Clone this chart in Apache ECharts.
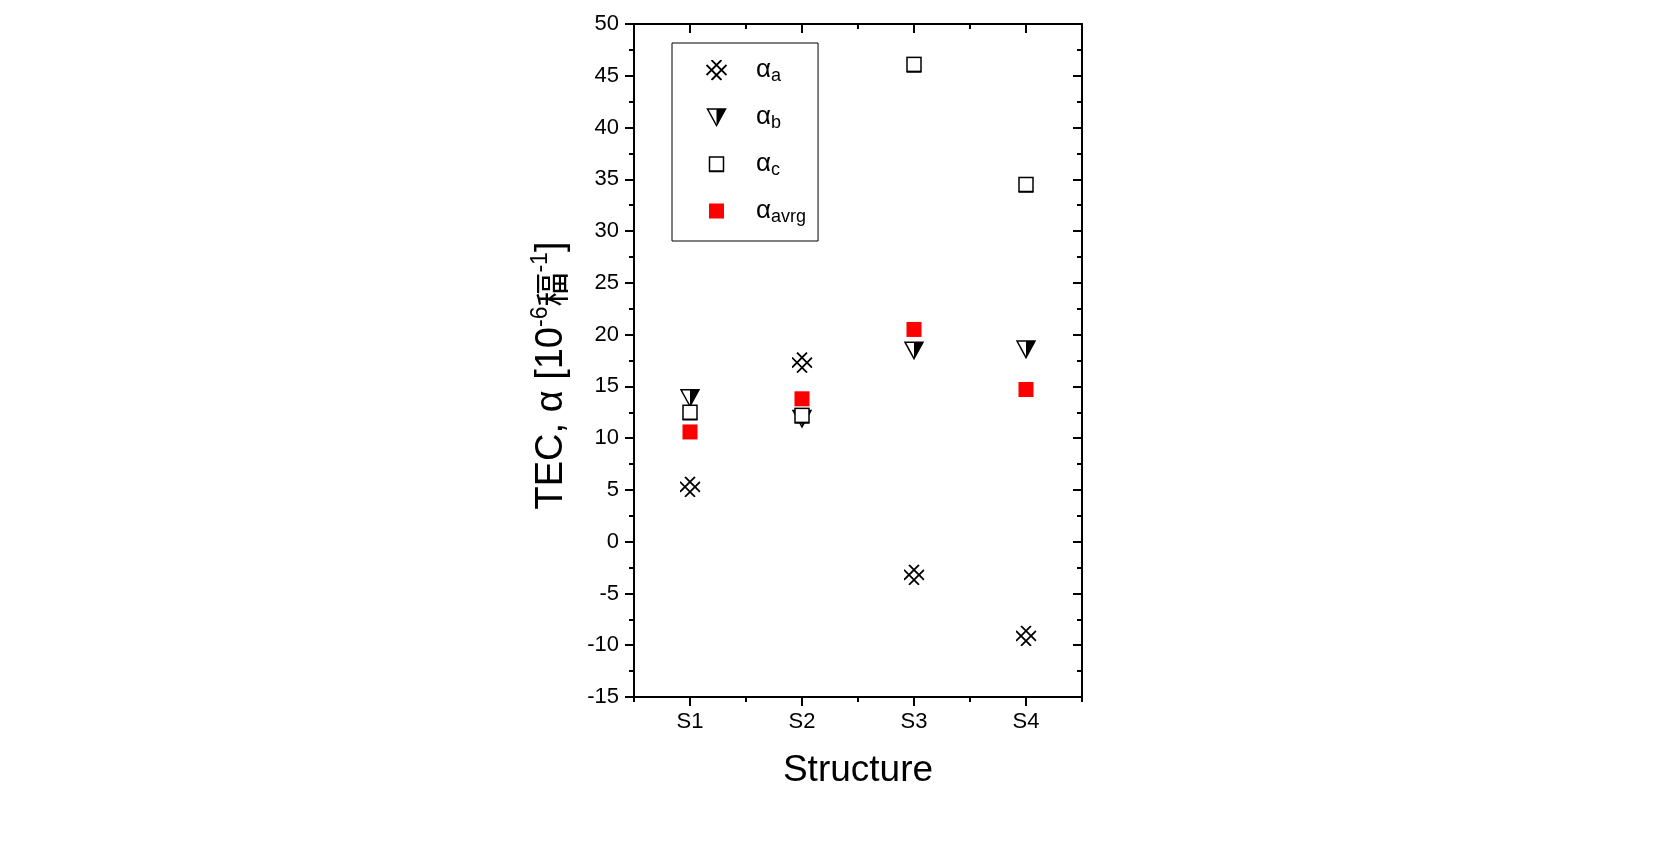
<!DOCTYPE html>
<html>
<head>
<meta charset="utf-8">
<title>TEC by structure</title>
<script src="https://cdn.jsdelivr.net/npm/echarts@6/dist/echarts.min.js"></script>
<style>
  html, body { margin: 0; padding: 0; background: #fff; }
  #chart { width: 1675px; height: 863px; }
</style>
</head>
<body>
<div id="chart"></div>
<script>
// ── Data ─────────────────────────────────────────────────────────────────────
const structures = ['S1', 'S2', 'S3', 'S4'];
const alphaA    = [5.3, 17.3, -3.2, -9.1];
const alphaB    = [13.9, 11.9, 18.5, 18.6];
const alphaC    = [12.5, 12.2, 46.1, 34.5];
const alphaAvrg = [10.6, 13.8, 20.5, 14.7];

const seriesNames = ['a', 'b', 'c', 'avrg'];   // subscripts of α

// ── Marker glyphs (Origin-style) as inline SVG ───────────────────────────────
// Drawn into a 21×21 box so every series can share one symbolSize.
const svg = body =>
  'image://data:image/svg+xml;charset=utf-8,' + encodeURIComponent(
    "<svg xmlns='http://www.w3.org/2000/svg' width='21' height='21' viewBox='0 0 21 21'>" +
    body + '</svg>');

const SYM_CROSS = svg(
  "<path d='M5.5 0.5L20.5 15.5M0.5 5.5L15.5 20.5M15.5 0.5L0.5 15.5M20.5 5.5L5.5 20.5' " +
  "stroke='#000' stroke-width='1.8' fill='none'/>");
const SYM_TRI = svg(
  "<path d='M1.5 2.5L19.5 2.5L10.5 19Z' fill='#fff' stroke='#000' stroke-width='1.5' stroke-linejoin='miter'/>" +
  "<path d='M10.5 2.5L19.5 2.5L10.5 19Z' fill='#000'/>");
const SYM_OPEN_SQ = svg(
  "<rect x='3.5' y='3.5' width='14' height='14' fill='#fff' stroke='#000' stroke-width='1.5'/>" +
  "<path d='M3 18.2L18 18.2' stroke='#000' stroke-width='1.2'/>");
const SYM_RED_SQ = svg(
  "<rect x='3' y='3' width='15' height='15' fill='#ff0000'/>");

const FONT = '"Liberation Sans", Arial, Helvetica, sans-serif';
const BLACK = '#000';

// ── Axes ─────────────────────────────────────────────────────────────────────
const grid = { left: 634, top: 24, width: 448, height: 673 };

const lineStyle = { color: BLACK, width: 2 };

// bottom: long ticks on categories + short ticks on boundaries; top mirrors them inward
const xAxes = [
  {
    type: 'category', position: 'bottom', data: structures,
    axisLine: { show: true, onZero: false, lineStyle },
    axisTick: { show: true, alignWithLabel: true, length: 9, lineStyle },
    axisLabel: { color: BLACK, fontSize: 22, fontFamily: FONT, margin: 14 },
    name: 'Structure', nameLocation: 'middle', nameGap: 55,
    nameTextStyle: { color: BLACK, fontSize: 37, fontFamily: FONT },
    splitLine: { show: false },
  },
  {
    type: 'category', position: 'bottom', data: structures,
    axisLine: { show: false, onZero: false },
    axisTick: { show: true, length: 5, lineStyle },
    axisLabel: { show: false },
  },
  {
    type: 'category', position: 'top', data: structures,
    axisLine: { show: true, onZero: false, lineStyle },
    axisTick: { show: true, alignWithLabel: true, inside: true, length: 9, lineStyle },
    axisLabel: { show: false },
  },
  {
    type: 'category', position: 'top', data: structures,
    axisLine: { show: false, onZero: false },
    axisTick: { show: true, inside: true, length: 5, lineStyle },
    axisLabel: { show: false },
  },
];

const yBase = { type: 'value', min: -15, max: 50, interval: 5, splitLine: { show: false } };

const yAxes = [
  {
    ...yBase, position: 'left',
    axisLine: { show: true, onZero: false, lineStyle },
    axisTick: { show: true, length: 9, lineStyle },
    minorTick: { show: true, splitNumber: 2, length: 5, lineStyle },
    axisLabel: { color: BLACK, fontSize: 22, fontFamily: FONT, margin: 15 },
    name: '{m|TEC, α [10}{s|-6}{c|稫}{s|-1}{m|]}',
    nameLocation: 'middle', nameRotate: 90, nameGap: 59,
    nameTextStyle: {
      padding: [0, 30, 0, 0],
      rich: {
        m: { fontSize: 38, fontFamily: FONT, color: BLACK, lineHeight: 46 },
        s: { fontSize: 23, fontFamily: FONT, color: BLACK, lineHeight: 23, verticalAlign: 'top' },
        c: { fontSize: 34, fontFamily: '"Noto Sans CJK SC", sans-serif', color: BLACK, lineHeight: 46 },
      },
    },
  },
  {
    ...yBase, position: 'right',
    axisLine: { show: true, onZero: false, lineStyle },
    axisTick: { show: true, inside: true, length: 9, lineStyle },
    minorTick: { show: true, splitNumber: 2, length: 5, lineStyle },
    axisLabel: { show: false },
  },
];

// ── Series ───────────────────────────────────────────────────────────────────
const scatter = (name, data, symbol) => ({
  name, type: 'scatter', data, symbol, symbolSize: 21,
  xAxisIndex: 0, yAxisIndex: 0, z: 3,
  itemStyle: { opacity: 1 },
  emphasis: { disabled: true },
});

const series = [
  scatter('a', alphaA, SYM_CROSS),
  scatter('b', alphaB, SYM_TRI),
  scatter('c', alphaC, SYM_OPEN_SQ),
  scatter('avrg', alphaAvrg, SYM_RED_SQ),
];

const chart = echarts.init(document.getElementById('chart'), null, { renderer: 'canvas' });
chart.setOption({
  animation: false,
  backgroundColor: '#fff',
  textStyle: { fontFamily: FONT },
  grid,
  xAxis: xAxes,
  yAxis: yAxes,
  legend: {
    data: seriesNames,
    orient: 'vertical',
    left: 672, top: 43,
    padding: [14, 12, 15, 34],
    itemWidth: 21, itemHeight: 21,
    itemGap: 19,
    borderColor: BLACK, borderWidth: 1, borderRadius: 0,
    formatter: n => `{g|α}{s|${n}}`,
    textStyle: {
      rich: {
        g: { fontSize: 26, fontFamily: FONT, color: BLACK, lineHeight: 30, padding: [0, 0, 0, 24] },
        s: { fontSize: 18, fontFamily: FONT, color: BLACK, lineHeight: 15, verticalAlign: 'bottom' },
      },
    },
  },
  series,
});
</script>
</body>
</html>
